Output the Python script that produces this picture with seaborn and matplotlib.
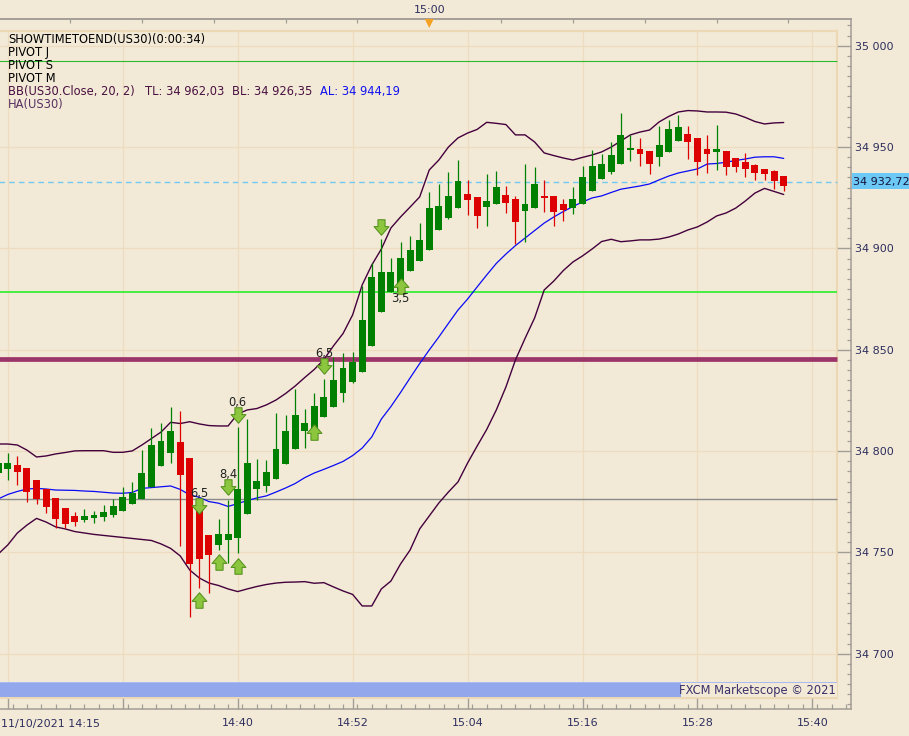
import numpy as np
import matplotlib
matplotlib.use("Agg")
import matplotlib.pyplot as plt
import seaborn as sns
from matplotlib.patches import Rectangle
from matplotlib.path import Path
from matplotlib.ticker import FixedLocator, MultipleLocator, FuncFormatter

# ---------------- data (US30, 1-minute Heikin-Ashi, 11/10/2021 from 14:15) ----------------
start_label = "11/10/2021 14:15"
ha_open = [34789.2, 34791.3, 34793.2, 34791.7, 34785.8, 34781.5, 34776.9, 34771.9, 34768.0, 34766.0,
           34767.2, 34767.5, 34768.6, 34770.6, 34774.0, 34776.5, 34782.4, 34792.8, 34799.1, 34804.5,
           34796.6, 34774.4, 34758.6, 34753.8, 34756.3, 34757.3, 34769.2, 34781.5, 34782.9, 34786.4,
           34793.5, 34801.2, 34809.9, 34808.8, 34817.0, 34821.9, 34828.5, 34834.2, 34839.2, 34852.0,
           34868.8, 34878.6, 34878.6, 34889.0, 34894.0, 34899.0, 34909.1, 34914.9, 34920.1, 34926.8,
           34925.3, 34920.6, 34922.0, 34926.3, 34924.4, 34918.6, 34920.1, 34925.9, 34925.9, 34921.9,
           34920.1, 34921.9, 34928.5, 34934.4, 34937.8, 34941.8, 34948.6, 34948.9, 34947.9, 34944.9,
           34947.7, 34953.1, 34956.4, 34954.3, 34949.0, 34947.4, 34948.1, 34944.5, 34942.6, 34941.1,
           34939.2, 34938.2, 34935.7]
ha_close = [34794.1, 34794.3, 34789.9, 34780.0, 34776.4, 34772.6, 34766.7, 34764.0, 34765.0, 34768.0,
            34768.5, 34770.0, 34772.9, 34777.4, 34779.4, 34789.2, 34803.0, 34805.0, 34809.9, 34788.4,
            34744.2, 34746.9, 34748.9, 34759.1, 34759.1, 34781.3, 34794.1, 34785.3, 34789.7, 34801.2,
            34809.9, 34817.8, 34813.9, 34822.3, 34826.7, 34835.1, 34841.0, 34843.8, 34864.7, 34885.7,
            34888.5, 34888.5, 34895.3, 34899.2, 34904.2, 34920.1, 34920.9, 34925.9, 34933.3, 34923.9,
            34916.0, 34923.5, 34930.3, 34922.5, 34913.2, 34921.9, 34931.8, 34924.9, 34918.1, 34918.9,
            34924.4, 34935.2, 34940.7, 34941.6, 34946.1, 34955.9, 34949.4, 34946.4, 34941.8, 34950.9,
            34958.9, 34959.7, 34952.6, 34942.8, 34946.4, 34949.0, 34940.3, 34940.0, 34939.3, 34937.3,
            34936.9, 34933.1, 34930.9]
ha_high = [34796.0, 34799.1, 34797.6, 34791.7, 34785.8, 34781.5, 34776.9, 34771.9, 34769.9, 34771.4,
           34770.6, 34773.4, 34776.4, 34782.4, 34784.9, 34800.5, 34811.4, 34813.9, 34821.9, 34819.9,
           34796.6, 34774.4, 34758.6, 34766.5, 34775.9, 34811.9, 34815.8, 34796.1, 34795.6, 34818.7,
           34817.8, 34830.6, 34820.8, 34828.5, 34835.6, 34846.6, 34848.2, 34848.9, 34881.4, 34892.6,
           34904.6, 34895.4, 34903.0, 34906.3, 34912.7, 34928.0, 34931.8, 34937.8, 34943.6, 34933.8,
           34925.3, 34936.7, 34938.2, 34930.8, 34925.9, 34941.6, 34940.1, 34933.8, 34925.9, 34924.4,
           34930.3, 34940.7, 34948.6, 34946.6, 34952.3, 34966.7, 34955.9, 34954.3, 34947.9, 34960.4,
           34963.4, 34965.8, 34960.4, 34954.3, 34955.9, 34960.9, 34948.1, 34944.5, 34947.2, 34941.8,
           34939.2, 34938.7, 34935.7]
ha_low = [34787.0, 34785.8, 34783.3, 34775.0, 34774.0, 34769.6, 34762.1, 34762.1, 34763.0, 34765.2,
          34764.7, 34765.7, 34767.6, 34770.6, 34774.0, 34776.5, 34782.4, 34792.8, 34794.3, 34753.2,
          34718.3, 34732.6, 34729.9, 34751.2, 34745.0, 34749.6, 34769.2, 34775.9, 34780.0, 34786.4,
          34793.5, 34801.2, 34801.4, 34808.8, 34817.0, 34821.9, 34824.4, 34833.5, 34839.2, 34852.0,
          34868.8, 34878.6, 34878.6, 34889.0, 34894.0, 34899.0, 34909.1, 34914.4, 34920.1, 34916.5,
          34910.2, 34911.2, 34922.0, 34917.6, 34902.2, 34903.3, 34920.1, 34918.1, 34911.2, 34913.7,
          34917.1, 34921.9, 34928.5, 34934.4, 34936.7, 34941.8, 34943.3, 34940.8, 34936.9, 34940.8,
          34947.7, 34953.1, 34944.3, 34936.4, 34937.3, 34938.8, 34936.4, 34937.8, 34935.2, 34933.9,
          34933.9, 34929.5, 34928.5]

# Bollinger bands BB(US30.Close, 20, 2)
bb_top = [34803.5, 34803.5, 34803.0, 34800.5, 34797.1, 34797.6, 34798.6, 34799.3, 34800.1, 34800.2,
          34800.2, 34800.2, 34799.4, 34799.4, 34800.1, 34803.0, 34806.2, 34809.4, 34814.2, 34813.6,
          34814.5, 34813.4, 34812.6, 34812.4, 34812.4, 34818.3, 34820.3, 34821.0, 34822.8, 34825.2,
          34828.4, 34832.1, 34836.3, 34840.3, 34845.2, 34851.9, 34858.0, 34867.2, 34882.0, 34891.8,
          34899.7, 34910.1, 34915.5, 34920.4, 34925.4, 34938.7, 34943.6, 34950.0, 34954.5, 34956.9,
          34958.7, 34962.2, 34961.7, 34961.1, 34956.0, 34956.0, 34952.5, 34947.1, 34945.8, 34944.6,
          34943.6, 34944.9, 34946.1, 34947.6, 34950.0, 34953.0, 34956.0, 34957.4, 34958.4, 34962.4,
          34965.1, 34967.3, 34968.0, 34967.8, 34967.3, 34967.3, 34967.2, 34966.3, 34964.6, 34962.6,
          34961.4, 34961.9, 34962.1]
bb_avg = [34776.4, 34778.6, 34780.1, 34781.3, 34781.6, 34781.3, 34780.8, 34780.7, 34780.6, 34780.3,
          34780.1, 34779.7, 34779.3, 34779.2, 34779.6, 34781.6, 34782.0, 34782.4, 34782.8, 34781.1,
          34778.4, 34777.2, 34775.1, 34774.3, 34772.7, 34774.1, 34775.6, 34776.9, 34777.9, 34779.8,
          34781.8, 34784.0, 34786.9, 34789.2, 34791.0, 34792.9, 34794.9, 34797.8, 34801.5, 34807.0,
          34815.8, 34822.0, 34828.9, 34836.1, 34843.2, 34849.9, 34856.3, 34863.0, 34869.6, 34875.0,
          34881.0, 34886.9, 34892.6, 34897.2, 34901.4, 34905.1, 34908.8, 34912.5, 34915.5, 34918.2,
          34920.7, 34922.9, 34924.9, 34925.9, 34927.6, 34929.2, 34930.0, 34930.8, 34931.8, 34933.8,
          34935.7, 34937.2, 34938.2, 34939.2, 34941.6, 34941.9, 34942.5, 34943.4, 34944.1, 34945.0,
          34945.2, 34945.2, 34944.4]
bb_bot = [34749.2, 34753.7, 34759.6, 34763.5, 34766.8, 34765.0, 34762.6, 34761.6, 34760.3, 34759.6,
          34758.9, 34758.4, 34757.9, 34757.4, 34756.9, 34756.4, 34755.9, 34754.2, 34752.0, 34748.3,
          34741.3, 34737.4, 34734.9, 34733.7, 34732.0, 34730.7, 34732.0, 34733.2, 34734.2, 34734.9,
          34735.3, 34735.4, 34735.6, 34734.8, 34735.1, 34733.0, 34731.0, 34729.3, 34723.6, 34723.6,
          34732.0, 34735.9, 34744.3, 34751.2, 34761.6, 34768.0, 34774.4, 34779.8, 34784.8, 34794.1,
          34802.5, 34810.7, 34820.3, 34831.6, 34845.0, 34855.6, 34865.7, 34879.5, 34883.9, 34889.1,
          34893.3, 34896.3, 34899.7, 34903.4, 34904.5, 34903.3, 34903.7, 34904.2, 34904.2, 34904.6,
          34905.6, 34907.1, 34909.1, 34910.6, 34913.0, 34916.0, 34917.5, 34919.9, 34923.4, 34927.3,
          34929.6, 34928.1, 34926.6]

pivot_levels = [34992.4, 34878.3, 34845.6, 34776.2]
last_price = 34932.72

arrow_dn_idx = [21, 24, 25, 34, 40]
arrow_dn_price = [34772.9, 34782.3, 34817.8, 34842.0, 34910.6]
arrow_dn_label = ["6,5", "8,4", "0,6", "6,5", ""]
arrow_up_idx = [21, 23, 25, 33, 42]
arrow_up_price = [34726.5, 34745.3, 34743.3, 34809.4, 34881.5]
arrow_up_label = ["", "", "", "", "3,5"]

x_major_idx = [1, 13, 25, 37, 49, 61, 73, 85]
x_major_labels = ["", "", "14:40", "14:52", "15:04", "15:16", "15:28", "15:40"]
top_tick_idx = [7.5, 15, 22.5, 30, 37.5, 45, 52.5, 60, 67.5, 75, 82.5]
top_tick_labels = ["", "", "", "", "", "15:00", "", "", "", "", ""]
now_idx = 45

legend_lines = ["SHOWTIMETOEND(US30)(0:00:34)", "PIVOT J", "PIVOT S", "PIVOT M"]
bb_texts = ["BB(US30.Close, 20, 2)", "TL: 34 962,03", "BL: 34 926,35", "AL: 34 944,19"]
ha_text = "HA(US30)"
copyright_text = "FXCM Marketscope \u00a9 2021"

# ---------------- style / layout ----------------
sns.set_style("white")
plt.rcParams["font.family"] = ["DejaVu Sans"]

BG = "#F2EAD7"
GRID = "#EEDCC1"
BORDER = "#EDD8B6"
SPINE = "#A29D95"
TXT = "#2E2E5E"
GREEN = "#008000"
RED = "#DD0000"
BANDC = "#44003C"
AVGC = "#0A0AF5"
PIVOT_COLORS = ["#2EB82E", "#1AF01A", "#9B3468", "#8A8A8A"]
PIVOT_LW = [0.8, 1.1, 3.4, 1.0]

W, H = 909, 736
AX_R, AX_T, AX_B = 851.0, 19.0, 709.3
IN_R, IN_T, IN_B = 836.7, 31.0, 698.0
XPX0, XSTEP = -1.8, 9.579          # pixel calibration of the bar index
PY_REF, P_REF, PSCALE = 45.7, 35000.0, 2.027   # pixel calibration of price

def dx(px):
    return (px - XPX0) / XSTEP

def dp(py):
    return P_REF - (py - PY_REF) / PSCALE

def axx(px):
    return px / AX_R

def axy(py):
    return (AX_B - py) / (AX_B - AX_T)

fig = plt.figure(figsize=(W / 100, H / 100), dpi=100, facecolor=BG)
ax = fig.add_axes([0, (H - AX_B) / H, AX_R / W, (AX_B - AX_T) / H])
ax.set_facecolor(BG)
ax.set_xlim(dx(0), dx(AX_R))
ax.set_ylim(dp(AX_B), dp(AX_T))

idx = np.arange(len(ha_open))
o = np.array(ha_open); c = np.array(ha_close)
h = np.array(ha_high); l = np.array(ha_low)

# inner frame
ax.add_patch(Rectangle((axx(-4), axy(IN_B)), axx(IN_R) - axx(-4), axy(IN_T) - axy(IN_B),
                       transform=ax.transAxes, fill=False, edgecolor=BORDER, lw=1.6,
                       clip_on=False, zorder=0.5))

# grid
ax.hlines(np.arange(34700, 35001, 50), dx(-4), dx(IN_R), colors=GRID, lw=1.0, zorder=1)
ax.vlines(x_major_idx, dp(IN_B), dp(IN_T), colors=GRID, lw=1.0, zorder=1)

# pivot lines
for lev, col, lw in zip(pivot_levels, PIVOT_COLORS, PIVOT_LW):
    ax.hlines(lev, dx(-4), dx(IN_R), colors=col, lw=lw, zorder=2)

# last price dashed line
ax.hlines(last_price, dx(-4), dx(IN_R), colors="#72C8F0", lw=1.0,
          linestyles=(0, (4, 3)), zorder=2)

# Bollinger bands
sns.lineplot(x=idx, y=bb_top, ax=ax, color=BANDC, lw=1.0, estimator=None, sort=False, zorder=3)
sns.lineplot(x=idx, y=bb_bot, ax=ax, color=BANDC, lw=1.0, estimator=None, sort=False, zorder=3)
sns.lineplot(x=idx, y=bb_avg, ax=ax, color=AVGC, lw=0.9, estimator=None, sort=False, zorder=3)

# Heikin-Ashi candles
cols = np.where(c >= o, GREEN, RED)
ax.vlines(idx, l, h, colors=cols, lw=0.9, zorder=4)
ax.bar(idx, np.maximum(np.abs(c - o), 0.8), bottom=np.minimum(o, c), width=0.72,
       color=cols, edgecolor="none", zorder=4)

# signal arrows
dn_path = Path([(-0.24, 0.52), (0.24, 0.52), (0.24, 0.06), (0.5, 0.06), (0.0, -0.52),
                (-0.5, 0.06), (-0.24, 0.06), (-0.24, 0.52)], closed=True)
up_path = Path([(x, -y) for x, y in dn_path.vertices], closed=True)
ax.scatter(arrow_dn_idx, arrow_dn_price, marker=dn_path, s=125, c="#8CC63E",
           edgecolors="#4F8D18", linewidths=0.7, zorder=5)
ax.scatter(arrow_up_idx, arrow_up_price, marker=up_path, s=125, c="#8CC63E",
           edgecolors="#4F8D18", linewidths=0.7, zorder=5)
for xi, pr, lab in zip(arrow_dn_idx, arrow_dn_price, arrow_dn_label):
    if lab:
        ax.annotate(lab, (xi, pr), xytext=(0, 9.3), textcoords="offset points",
                    ha="center", va="center", fontsize=8.3, color="#202020", zorder=6)
for xi, pr, lab in zip(arrow_up_idx, arrow_up_price, arrow_up_label):
    if lab:
        ax.annotate(lab, (xi, pr), xytext=(0, -9.3), textcoords="offset points",
                    ha="center", va="center", fontsize=8.3, color="#202020", zorder=6)

# bottom band + copyright
ax.add_patch(Rectangle((axx(-4), axy(696.7)), axx(IN_R) - axx(-4), axy(681.7) - axy(696.7),
                       transform=ax.transAxes, color="#93A8EC", lw=0, clip_on=False, zorder=6))
ax.add_patch(Rectangle((axx(-4), axy(683.3)), axx(IN_R) - axx(-4), axy(681.7) - axy(683.3),
                       transform=ax.transAxes, color="#A9BBF2", lw=0, clip_on=False, zorder=6))
ax.add_patch(Rectangle((axx(681), axy(697)), axx(IN_R) - axx(681), axy(683.3) - axy(697),
                       transform=ax.transAxes, color=BG, lw=0, clip_on=False, zorder=6))
ax.text(axx(835.5), axy(690.3), copyright_text, transform=ax.transAxes, ha="right",
        va="center", fontsize=8.3, color="#3A2F6A", zorder=7)

# legend texts
for i, t in enumerate(legend_lines):
    ax.text(axx(8), axy(43.3 + 13 * i), t, transform=ax.transAxes, ha="left",
            va="baseline", fontsize=8.3, color="#000000", zorder=7)
bb_x = [8, 145, 232, 320]
bb_cols = ["#4A1040", "#4A1040", "#4A1040", "#1010F0"]
for t, x0, col in zip(bb_texts, bb_x, bb_cols):
    ax.text(axx(x0), axy(95.3), t, transform=ax.transAxes, ha="left", va="baseline",
            fontsize=8.3, color=col, zorder=7)
ax.text(axx(8), axy(108.3), ha_text, transform=ax.transAxes, ha="left", va="baseline",
        fontsize=8.3, color="#5A3062", zorder=7)

# spines
for side in ["left"]:
    ax.spines[side].set_visible(False)
for side in ["top", "right", "bottom"]:
    ax.spines[side].set_visible(True)
    ax.spines[side].set_color(SPINE)
    ax.spines[side].set_linewidth(1.1)

# y axis on the right
ax.yaxis.tick_right()
ax.yaxis.set_major_locator(MultipleLocator(50))
ax.yaxis.set_minor_locator(MultipleLocator(5))
ax.yaxis.set_major_formatter(FuncFormatter(lambda v, p: f"{v:,.0f}".replace(",", " ")))
ax.tick_params(axis="y", which="major", direction="in", length=10, width=1.0, color=SPINE,
               labelsize=8, labelcolor=TXT, pad=3, right=True, left=False)
ax.tick_params(axis="y", which="minor", direction="in", length=3.2, width=0.9, color=SPINE,
               right=True, left=False)

# x axis at bottom
ax.xaxis.set_major_locator(FixedLocator(x_major_idx))
ax.set_xticklabels(x_major_labels)
ax.xaxis.set_minor_locator(MultipleLocator(1.5))
ax.tick_params(axis="x", which="major", direction="in", length=8, width=1.0, color=SPINE,
               labelsize=8, labelcolor=TXT, pad=6, bottom=True, top=False)
ax.tick_params(axis="x", which="minor", direction="in", length=3.6, width=0.9, color=SPINE,
               bottom=True, top=False)
ax.set_xlabel(""); ax.set_ylabel("")
fig.text(1 / W, 1 - 724 / H, start_label, ha="left", va="center", fontsize=8, color=TXT)

# top time axis
sec = ax.secondary_xaxis("top")
sec.set_xticks(top_tick_idx)
sec.set_xticklabels(top_tick_labels)
sec.spines["top"].set_color(SPINE)
sec.spines["top"].set_linewidth(1.1)
sec.tick_params(axis="x", direction="in", length=3, width=0.9, color=SPINE,
                labelsize=8, labelcolor=TXT, pad=3)
ax.scatter([now_idx], [axy(23.5)], marker="v", s=42, color="#F5A224", edgecolors="none",
           transform=ax.get_xaxis_transform(), clip_on=False, zorder=8)

# last price tag
fig.add_artist(Rectangle((852 / W, 1 - 189 / H), 60 / W, 16 / H, transform=fig.transFigure,
                         color="#6CC8F4", lw=0))
fig.text(853 / W, 1 - 181.5 / H, "34 932,72", ha="left", va="center", fontsize=8, color="#14143C")

fig.savefig("out.png", dpi=100, facecolor=BG)
